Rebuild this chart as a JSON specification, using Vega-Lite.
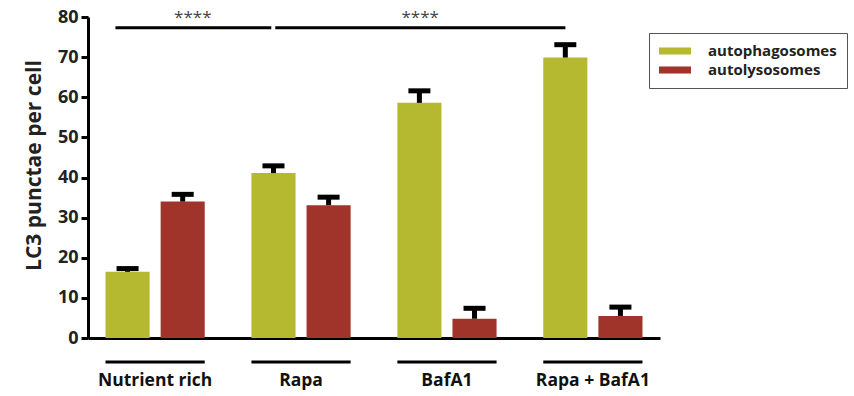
{
  "$schema": "https://vega.github.io/schema/vega-lite/v6.json",
  "width": 572,
  "height": 321,
  "autosize": {"type": "none"},
  "padding": {"left": 88, "top": 17, "right": 194, "bottom": 58},
  "config": {"view": {"stroke": null}, "font": "Open Sans"},
  "data": {"values": [
    {"group": "Nutrient rich", "type": "autophagosomes", "value": 16.5, "upper": 17.3},
    {"group": "Nutrient rich", "type": "autolysosomes", "value": 34.0, "upper": 35.8},
    {"group": "Rapa", "type": "autophagosomes", "value": 41.1, "upper": 42.9},
    {"group": "Rapa", "type": "autolysosomes", "value": 33.1, "upper": 35.1},
    {"group": "BafA1", "type": "autophagosomes", "value": 58.6, "upper": 61.6},
    {"group": "BafA1", "type": "autolysosomes", "value": 4.8, "upper": 7.4},
    {"group": "Rapa + BafA1", "type": "autophagosomes", "value": 69.9, "upper": 73.1},
    {"group": "Rapa + BafA1", "type": "autolysosomes", "value": 5.5, "upper": 7.7}
  ]},
  "layer": [
    {
      "mark": {"type": "bar"},
      "encoding": {
        "x": {"field": "group", "type": "nominal", "title": null,
          "scale": {"domain": ["Nutrient rich", "Rapa", "BafA1", "Rapa + BafA1"], "paddingInner": 0.32, "paddingOuter": 0.12},
          "axis": {"orient": "bottom", "domain": true, "domainColor": "#000", "domainWidth": 3, "ticks": false,
            "labelAngle": 0, "labelFont": "Open Sans", "labelFontWeight": "bold", "labelFontSize": 17.5, "labelColor": "#111", "labelPadding": 33}},
        "xOffset": {"field": "type", "type": "nominal", "sort": ["autophagosomes", "autolysosomes"],
          "scale": {"paddingInner": 0.2, "paddingOuter": 0}},
        "y": {"field": "value", "type": "quantitative", "title": "LC3 punctae per cell",
          "scale": {"domain": [0, 80], "nice": false, "zero": true},
          "axis": {"values": [0, 10, 20, 30, 40, 50, 60, 70, 80], "grid": false, "domainColor": "#000", "domainWidth": 3,
            "tickColor": "#000", "tickWidth": 3, "tickSize": 7, "labelFont": "Open Sans", "labelFontWeight": "bold",
            "labelFontSize": 18, "labelColor": "#222", "labelPadding": 3, "titleFont": "Open Sans", "titleFontWeight": "bold",
            "titleFontSize": 21, "titleColor": "#222", "titlePadding": 13, "titleY": 148}},
        "color": {"field": "type", "type": "nominal", "sort": ["autophagosomes", "autolysosomes"],
          "scale": {"domain": ["autophagosomes", "autolysosomes"], "range": ["#b4b92f", "#a1342a"]},
          "legend": {"orient": "none", "legendX": 561, "legendY": 16, "title": null, "strokeColor": "#555",
            "padding": 10, "symbolType": "M-1,-0.44H3V0.44H-1Z", "symbolSize": 256, "symbolStrokeWidth": 0,
            "labelFont": "Open Sans", "labelFontWeight": "bold", "labelFontSize": 15, "labelColor": "#222",
            "labelOffset": 33, "rowPadding": 3}}
      }
    },
    {
      "mark": {"type": "rule", "color": "#000", "strokeWidth": 5},
      "encoding": {
        "x": {"field": "group", "type": "nominal", "title": null},
        "xOffset": {"field": "type", "type": "nominal", "sort": ["autophagosomes", "autolysosomes"]},
        "y": {"field": "value", "type": "quantitative", "title": "LC3 punctae per cell"},
        "y2": {"field": "upper"}
      }
    },
    {
      "mark": {"type": "tick", "color": "#000", "opacity": 1, "size": 22, "thickness": 5, "orient": "horizontal"},
      "encoding": {
        "x": {"field": "group", "type": "nominal", "title": null},
        "xOffset": {"field": "type", "type": "nominal", "sort": ["autophagosomes", "autolysosomes"]},
        "y": {"field": "upper", "type": "quantitative", "title": "LC3 punctae per cell"}
      }
    },
    {
      "data": {"values": [{"from": "Nutrient rich", "to": "Rapa"}]},
      "mark": {"type": "rule", "color": "#000", "strokeWidth": 3},
      "encoding": {
        "x": {"field": "from", "type": "nominal", "bandPosition": 0.1, "title": null},
        "x2": {"field": "to", "bandPosition": 0.2},
        "y": {"datum": 77.3, "type": "quantitative", "title": "LC3 punctae per cell"}
      }
    },
    {
      "data": {"values": [{"from": "Rapa", "to": "Rapa + BafA1"}]},
      "mark": {"type": "rule", "color": "#000", "strokeWidth": 3},
      "encoding": {
        "x": {"field": "from", "type": "nominal", "bandPosition": 0.24, "title": null},
        "x2": {"field": "to", "bandPosition": 0.223},
        "y": {"datum": 77.3, "type": "quantitative", "title": "LC3 punctae per cell"}
      }
    },
    {
      "data": {"values": [{"group": "Nutrient rich", "label": "****"}]},
      "mark": {"type": "text", "font": "Open Sans", "fontSize": 17, "color": "#444", "baseline": "middle"},
      "encoding": {
        "x": {"field": "group", "type": "nominal", "bandPosition": 0.88, "title": null},
        "y": {"datum": 79.8, "type": "quantitative", "title": "LC3 punctae per cell"},
        "text": {"field": "label"}
      }
    },
    {
      "data": {"values": [{"group": "BafA1", "label": "****"}]},
      "mark": {"type": "text", "font": "Open Sans", "fontSize": 17, "color": "#444", "baseline": "middle"},
      "encoding": {
        "x": {"field": "group", "type": "nominal", "bandPosition": 0.23, "title": null},
        "y": {"datum": 79.8, "type": "quantitative", "title": "LC3 punctae per cell"},
        "text": {"field": "label"}
      }
    },
    {
      "data": {"values": [{"group": "Nutrient rich"}, {"group": "Rapa"}, {"group": "BafA1"}, {"group": "Rapa + BafA1"}]},
      "mark": {"type": "rule", "color": "#000", "strokeWidth": 3},
      "encoding": {
        "x": {"field": "group", "type": "nominal", "bandPosition": 0, "title": null},
        "x2": {"field": "group", "bandPosition": 1},
        "y": {"datum": -6, "type": "quantitative", "title": "LC3 punctae per cell"}
      }
    }
  ]
}
